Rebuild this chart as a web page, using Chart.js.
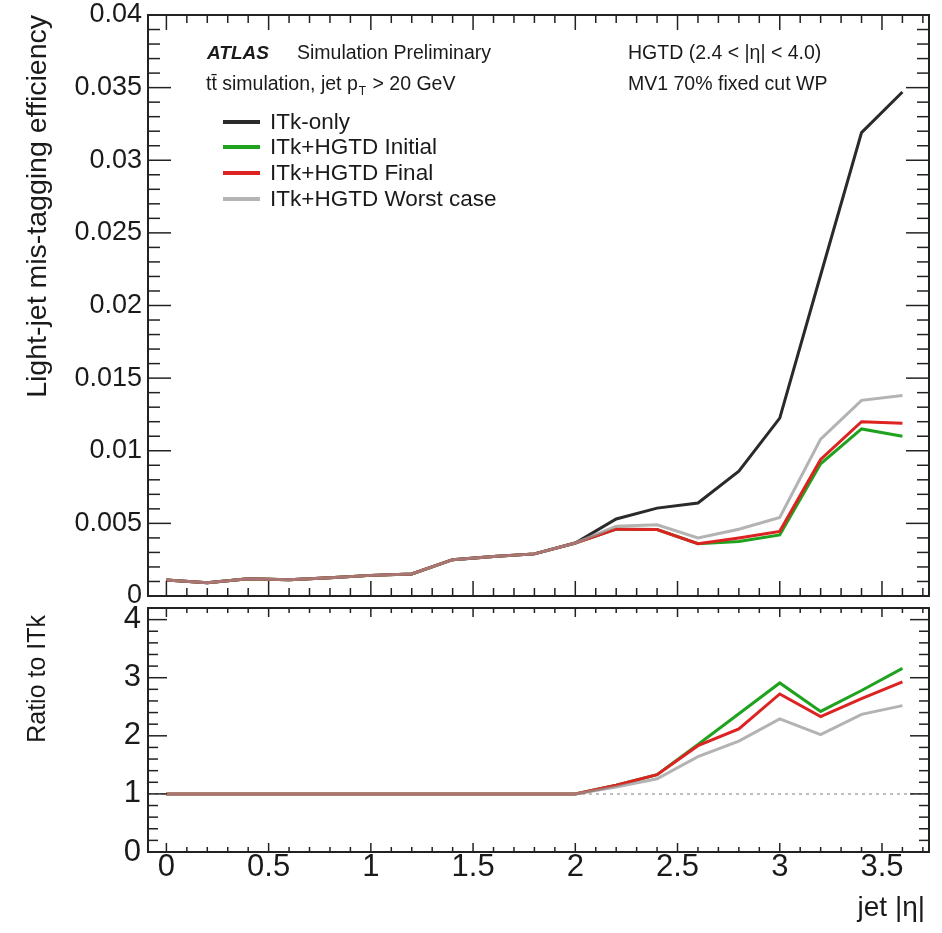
<!DOCTYPE html>
<html>
<head>
<meta charset="utf-8">
<script src="https://cdn.jsdelivr.net/npm/chart.js@4.4.1/dist/chart.umd.min.js"></script>
<style>
  html, body { margin: 0; padding: 0; background: #fff; }
  #wrap { position: relative; width: 942px; height: 933px; }
  .pane { position: absolute; left: 0; width: 942px; }
</style>
</head>
<body>
<div id="wrap">
  <div class="pane" style="top:0;height:620px"><canvas id="eff"></canvas></div>
  <div class="pane" style="top:600px;height:333px"><canvas id="ratio"></canvas></div>
</div>
<script>
(function () {
  'use strict';

  // Jet |eta| bin positions.
  var eta = [0, 0.2, 0.4, 0.6, 0.8, 1.0, 1.2, 1.4, 1.6, 1.8, 2.0, 2.2, 2.4, 2.6, 2.8, 3.0, 3.2, 3.4, 3.6];

  // Light-jet mis-tagging efficiency.
  var effItkOnly = [0.00110, 0.00092, 0.00118, 0.00112, 0.00125, 0.00142, 0.00152, 0.00250, 0.00272, 0.00290, 0.00365,
    0.00530, 0.00605, 0.00640, 0.00860, 0.01225, 0.02210, 0.03190, 0.03470];
  var effInitial = [0.00110, 0.00092, 0.00118, 0.00112, 0.00125, 0.00142, 0.00152, 0.00250, 0.00272, 0.00290, 0.00365,
    0.00460, 0.00458, 0.00360, 0.00375, 0.00420, 0.00910, 0.01150, 0.01100];
  var effFinal = [0.00110, 0.00092, 0.00118, 0.00112, 0.00125, 0.00142, 0.00152, 0.00250, 0.00272, 0.00290, 0.00365,
    0.00460, 0.00458, 0.00360, 0.00400, 0.00445, 0.00940, 0.01200, 0.01190];
  var effWorst = [0.00110, 0.00092, 0.00118, 0.00112, 0.00125, 0.00142, 0.00152, 0.00250, 0.00272, 0.00290, 0.00365,
    0.00480, 0.00490, 0.00400, 0.00460, 0.00540, 0.01080, 0.01347, 0.01380];

  // Ratio to ITk-only.
  var ratioInitial = [1, 1, 1, 1, 1, 1, 1, 1, 1, 1, 1.00, 1.15, 1.33, 1.85, 2.38, 2.91, 2.42, 2.78, 3.16];
  var ratioFinal = [1, 1, 1, 1, 1, 1, 1, 1, 1, 1, 1.00, 1.15, 1.33, 1.83, 2.12, 2.72, 2.33, 2.64, 2.93];
  var ratioWorst = [1, 1, 1, 1, 1, 1, 1, 1, 1, 1, 1.00, 1.12, 1.26, 1.64, 1.91, 2.29, 2.02, 2.37, 2.52];

  var legendLabels = ['ITk-only', 'ITk+HGTD Initial', 'ITk+HGTD Final', 'ITk+HGTD Worst case'];

  var FONT = '"Liberation Sans", Arial, Helvetica, sans-serif';
  var INK = '#1a1a1a';
  var COLORS = {
    itk: '#2a2a2a',
    initial: '#1fa31f',
    fin: '#dd2222',
    worst: 'rgba(150, 150, 150, 0.72)'
  };

  function points(values) {
    return eta.map(function (x, i) { return { x: x, y: values[i] }; });
  }

  function series(label, values, color, order) {
    return {
      label: label,
      data: points(values),
      borderColor: color,
      backgroundColor: color,
      borderWidth: 3,
      pointRadius: 0,
      tension: 0,
      fill: false,
      order: order
    };
  }

  function strokeLine(ctx, x1, y1, x2, y2) {
    ctx.beginPath();
    ctx.moveTo(x1, y1);
    ctx.lineTo(x2, y2);
    ctx.stroke();
  }

  function eachTick(min, max, minor, major, fn) {
    var k0 = Math.ceil(min / minor - 1e-6);
    var k1 = Math.floor(max / minor + 1e-6);
    for (var k = k0; k <= k1; k++) {
      var v = k * minor;
      var r = v / major;
      fn(v, Math.abs(r - Math.round(r)) < 1e-6);
    }
  }

  // Keep the plot frame where the layout padding puts it: no extra room for label overhang.
  function noOverhang(scale, size, key) {
    scale[key] = size;
    scale.paddingTop = 0;
    scale.paddingBottom = 0;
    scale.paddingLeft = 0;
    scale.paddingRight = 0;
  }

  /**
   * Draws the ROOT-style frame with inward ticks on all four sides.
   */
  var framePlugin = {
    id: 'atlasFrame',
    afterDatasetsDraw: function (chart, args, opts) {
      var ctx = chart.ctx;
      var a = chart.chartArea;
      var xs = chart.scales.x;
      var ys = chart.scales.y;
      ctx.save();
      ctx.strokeStyle = '#222';
      ctx.lineWidth = 1.5;
      eachTick(xs.min, xs.max, opts.xMinor, opts.xMajor, function (v, major) {
        var px = xs.getPixelForValue(v);
        var len = major ? opts.xLen[0] : opts.xLen[1];
        strokeLine(ctx, px, a.bottom, px, a.bottom - len);
        strokeLine(ctx, px, a.top, px, a.top + len);
      });
      eachTick(ys.min, ys.max, opts.yMinor, opts.yMajor, function (v, major) {
        var py = ys.getPixelForValue(v);
        var len = major ? opts.yLen[0] : opts.yLen[1];
        strokeLine(ctx, a.left, py, a.left + len, py);
        strokeLine(ctx, a.right, py, a.right - len, py);
      });
      ctx.lineWidth = 2;
      ctx.strokeRect(a.left, a.top, a.right - a.left, a.bottom - a.top);
      ctx.restore();
    }
  };

  function drawVerticalTitle(ctx, text, x, top, size) {
    ctx.save();
    ctx.translate(x, top);
    ctx.rotate(-Math.PI / 2);
    ctx.font = size + 'px ' + FONT;
    ctx.fillStyle = INK;
    ctx.textAlign = 'right';
    ctx.textBaseline = 'middle';
    ctx.fillText(text, 0, 0);
    ctx.restore();
  }

  /**
   * Labels, legend and axis title of the efficiency panel.
   */
  var effTextPlugin = {
    id: 'effText',
    afterDraw: function (chart) {
      var ctx = chart.ctx;
      ctx.save();
      ctx.fillStyle = INK;
      ctx.textBaseline = 'alphabetic';
      ctx.textAlign = 'left';

      ctx.font = 'italic bold 19px ' + FONT;
      ctx.fillText('ATLAS', 207, 59);
      ctx.font = '19.5px ' + FONT;
      ctx.fillText('Simulation Preliminary', 297, 59);

      var lead = 't\u0074\u0304 simulation, jet p';
      ctx.fillText(lead, 206, 90);
      var w = ctx.measureText(lead).width;
      ctx.font = '12px ' + FONT;
      ctx.fillText('T', 206 + w + 1, 95);
      var wT = ctx.measureText('T').width;
      ctx.font = '19.5px ' + FONT;
      ctx.fillText(' > 20 GeV', 206 + w + wT + 2, 90);

      ctx.fillText('HGTD (2.4 < |\u03b7| < 4.0)', 628, 59);
      ctx.fillText('MV1 70% fixed cut WP', 628, 90);

      // Legend.
      var colors = [COLORS.itk, COLORS.initial, COLORS.fin, '#b4b4b4'];
      var rows = [122, 147, 173, 199];
      ctx.font = '22.5px ' + FONT;
      ctx.textBaseline = 'middle';
      ctx.lineWidth = 4;
      for (var i = 0; i < legendLabels.length; i++) {
        ctx.strokeStyle = colors[i];
        strokeLine(ctx, 223, rows[i], 260, rows[i]);
        ctx.fillText(legendLabels[i], 270, rows[i] + 1);
      }
      ctx.restore();

      drawVerticalTitle(ctx, 'Light-jet mis-tagging efficiency', 38, 15, 28.5);
    }
  };

  /**
   * Reference line, axis titles of the ratio panel.
   */
  var ratioTextPlugin = {
    id: 'ratioText',
    beforeDatasetsDraw: function (chart) {
      var ctx = chart.ctx;
      var a = chart.chartArea;
      var py = chart.scales.y.getPixelForValue(1);
      ctx.save();
      ctx.strokeStyle = '#a8a8a8';
      ctx.lineWidth = 1.5;
      ctx.setLineDash([3, 4]);
      strokeLine(ctx, a.left, py, a.right, py);
      ctx.restore();
    },
    afterDraw: function (chart) {
      var ctx = chart.ctx;
      drawVerticalTitle(ctx, 'Ratio to ITk', 38, 15, 25);
      ctx.save();
      ctx.font = '28px ' + FONT;
      ctx.fillStyle = INK;
      ctx.textAlign = 'right';
      ctx.textBaseline = 'alphabetic';
      ctx.fillText('jet |\u03b7|', 925, 316);
      ctx.restore();
    }
  };

  function fmt(v) {
    return String(parseFloat(v.toFixed(4)));
  }

  var X_MIN = -0.09;
  var X_MAX = 3.73;

  new Chart(document.getElementById('eff'), {
    type: 'line',
    data: {
      datasets: [
        series(legendLabels[0], effItkOnly, COLORS.itk, 4),
        series(legendLabels[1], effInitial, COLORS.initial, 3),
        series(legendLabels[2], effFinal, COLORS.fin, 2),
        series(legendLabels[3], effWorst, COLORS.worst, 1)
      ]
    },
    options: {
      responsive: true,
      maintainAspectRatio: false,
      animation: false,
      devicePixelRatio: 1,
      layout: { padding: { left: 0, right: 13, top: 15, bottom: 24 } },
      plugins: {
        legend: { display: false },
        tooltip: { enabled: false },
        atlasFrame: { xMinor: 0.1, xMajor: 0.5, yMinor: 0.001, yMajor: 0.005, xLen: [15, 8], yLen: [23, 12] }
      },
      scales: {
        x: { type: 'linear', min: X_MIN, max: X_MAX, display: false },
        y: {
          type: 'linear',
          min: 0,
          max: 0.04,
          grid: { display: false, drawTicks: false },
          border: { display: false },
          ticks: {
            stepSize: 0.005,
            includeBounds: false,
            autoSkip: false,
            padding: 6,
            color: INK,
            font: { family: FONT, size: 27 },
            callback: fmt
          },
          afterFit: function (scale) { noOverhang(scale, 148, 'width'); }
        }
      }
    },
    plugins: [framePlugin, effTextPlugin]
  });

  new Chart(document.getElementById('ratio'), {
    type: 'line',
    data: {
      datasets: [
        series(legendLabels[1], ratioInitial, COLORS.initial, 3),
        series(legendLabels[2], ratioFinal, COLORS.fin, 2),
        series(legendLabels[3], ratioWorst, COLORS.worst, 1)
      ]
    },
    options: {
      responsive: true,
      maintainAspectRatio: false,
      animation: false,
      devicePixelRatio: 1,
      layout: { padding: { left: 0, right: 13, top: 8, bottom: 0 } },
      plugins: {
        legend: { display: false },
        tooltip: { enabled: false },
        atlasFrame: { xMinor: 0.1, xMajor: 0.5, yMinor: 0.2, yMajor: 1, xLen: [9, 5], yLen: [19, 10] }
      },
      scales: {
        x: {
          type: 'linear',
          min: X_MIN,
          max: X_MAX,
          grid: { display: false, drawTicks: false },
          border: { display: false },
          ticks: {
            stepSize: 0.5,
            includeBounds: false,
            autoSkip: false,
            maxRotation: 0,
            padding: 0,
            color: INK,
            font: { family: FONT, size: 31, lineHeight: 1 },
            callback: fmt
          },
          afterFit: function (scale) { noOverhang(scale, 81, 'height'); }
        },
        y: {
          type: 'linear',
          min: 0,
          max: 4.2,
          grid: { display: false, drawTicks: false },
          border: { display: false },
          ticks: {
            stepSize: 1,
            includeBounds: false,
            autoSkip: false,
            padding: 7,
            color: INK,
            font: { family: FONT, size: 31 },
            callback: fmt
          },
          afterFit: function (scale) { noOverhang(scale, 148, 'width'); }
        }
      }
    },
    plugins: [framePlugin, ratioTextPlugin]
  });
})();
</script>
</body>
</html>
